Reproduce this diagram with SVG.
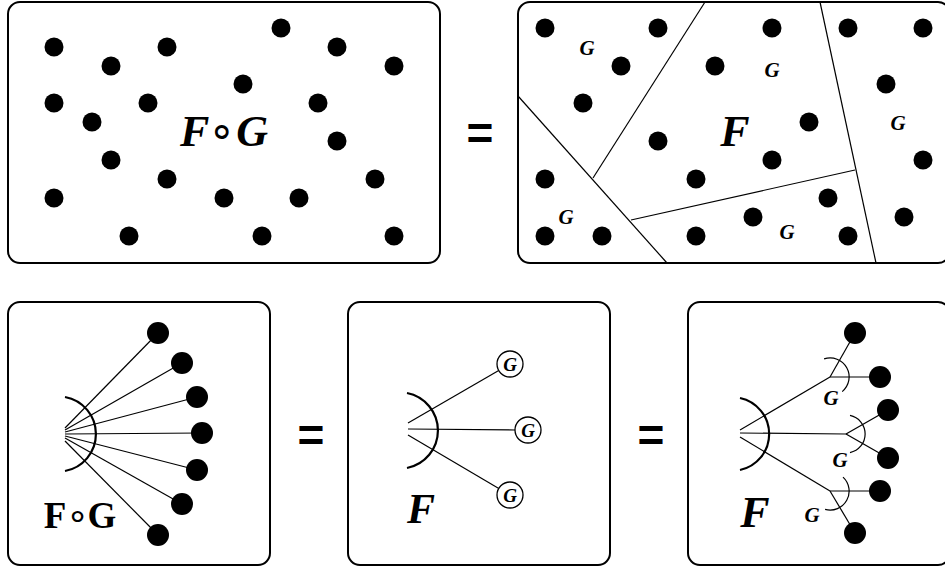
<svg xmlns="http://www.w3.org/2000/svg" width="945" height="572" viewBox="0 0 945 572">
<style>
.panel{fill:#fff;stroke:#000;stroke-width:2}
.d{fill:#000}
.ln{stroke:#000;stroke-width:1.2;fill:none}
.arc{stroke:#000;stroke-width:2.2;fill:none}
.sarc{stroke:#000;stroke-width:1.2;fill:none}
.bi{font-family:"Liberation Serif","Times New Roman",serif;font-weight:bold;font-style:italic;text-anchor:middle;fill:#000}
.bu{font-family:"Liberation Serif","Times New Roman",serif;font-weight:bold;text-anchor:middle;fill:#000}
.ring{font-weight:normal;font-style:normal}
.eq{font-family:"Liberation Sans",Arial,sans-serif;font-weight:bold;text-anchor:middle;font-size:46px;fill:#000}
.gc{fill:#fff;stroke:#000;stroke-width:1.3}
</style>
<rect width="945" height="572" fill="#fff"/>

<!-- Top-left panel -->
<g id="panel-top-left">
<rect class="panel" x="8" y="2" width="432" height="261" rx="12"/>
<g class="d">
<circle cx="54" cy="47" r="9.5"/><circle cx="167" cy="47" r="9.5"/><circle cx="281" cy="28" r="9.5"/>
<circle cx="337" cy="47" r="9.5"/><circle cx="394" cy="66" r="9.5"/><circle cx="111" cy="66" r="9.5"/>
<circle cx="243" cy="84" r="9.5"/><circle cx="54" cy="103" r="9.5"/><circle cx="148" cy="103" r="9.5"/>
<circle cx="318" cy="103" r="9.5"/><circle cx="92" cy="122" r="9.5"/><circle cx="337" cy="141" r="9.5"/>
<circle cx="111" cy="160" r="9.5"/><circle cx="167" cy="179" r="9.5"/><circle cx="375" cy="179" r="9.5"/>
<circle cx="54" cy="198" r="9.5"/><circle cx="224" cy="198" r="9.5"/><circle cx="299" cy="198" r="9.5"/>
<circle cx="129" cy="236" r="9.5"/><circle cx="262" cy="236" r="9.5"/><circle cx="394" cy="236" r="9.5"/>
</g>
<text class="bi" x="224" y="146" font-size="44">F<tspan class="ring" dx="-1">∘</tspan><tspan>G</tspan></text>
</g>

<text class="eq" x="480" y="149">=</text>

<!-- Top-right panel -->
<g id="panel-top-right">
<rect class="panel" x="518" y="2" width="432" height="261" rx="12"/>
<g class="ln">
<line x1="705" y1="2" x2="593" y2="178"/>
<line x1="518" y1="96" x2="667" y2="263"/>
<line x1="631" y1="220" x2="855" y2="170"/>
<line x1="820" y1="2" x2="876" y2="263"/>
</g>
<g class="d">
<circle cx="545" cy="28" r="9.5"/><circle cx="658" cy="28" r="9.5"/><circle cx="772" cy="28" r="9.5"/>
<circle cx="848" cy="28" r="9.5"/><circle cx="923" cy="28" r="9.5"/><circle cx="621" cy="66" r="9.5"/>
<circle cx="715" cy="66" r="9.5"/><circle cx="583" cy="103" r="9.5"/><circle cx="886" cy="84" r="9.5"/>
<circle cx="809" cy="122" r="9.5"/><circle cx="658" cy="141" r="9.5"/><circle cx="772" cy="160" r="9.5"/>
<circle cx="923" cy="160" r="9.5"/><circle cx="545" cy="179" r="9.5"/><circle cx="696" cy="179" r="9.5"/>
<circle cx="828" cy="198" r="9.5"/><circle cx="753" cy="217" r="9.5"/><circle cx="904" cy="217" r="9.5"/>
<circle cx="545" cy="236" r="9.5"/><circle cx="602" cy="236" r="9.5"/><circle cx="696" cy="236" r="9.5"/>
<circle cx="848" cy="236" r="9.5"/>
</g>
<text class="bi" x="587" y="55" font-size="21">G</text>
<text class="bi" x="772" y="77" font-size="21">G</text>
<text class="bi" x="898" y="130" font-size="21">G</text>
<text class="bi" x="566" y="224" font-size="21">G</text>
<text class="bi" x="787" y="239" font-size="21">G</text>
<text class="bi" x="735" y="146" font-size="44">F</text>
</g>

<!-- Bottom-left panel -->
<g id="panel-bottom-left">
<rect class="panel" x="8" y="302" width="262" height="263" rx="12"/>
<path class="arc" d="M65,397 A37.6,37.6 0 0 1 65,471"/>
<g class="d">
<circle cx="158" cy="333" r="11"/><circle cx="182" cy="363" r="11"/><circle cx="197" cy="397" r="11"/>
<circle cx="202" cy="433" r="11"/><circle cx="197" cy="470" r="11"/><circle cx="182" cy="504" r="11"/>
<circle cx="158" cy="535" r="11"/>
</g>
<text class="bu" x="80" y="528" font-size="37">F<tspan class="ring">∘</tspan><tspan dx="-2">G</tspan></text>
</g>

<text class="eq" x="311" y="451">=</text>

<!-- Bottom-middle panel -->
<g id="panel-bottom-middle">
<rect class="panel" x="348" y="302" width="262" height="263" rx="12"/>
<path class="arc" d="M407,393 A38.2,38.2 0 0 1 407,468"/>
<g id="g1"><circle class="gc" cx="510" cy="364" r="13"/><text class="bi" x="510" y="370.5" font-size="19">G</text></g>
<g id="g2"><circle class="gc" cx="528" cy="430" r="13"/><text class="bi" x="528" y="436.5" font-size="19">G</text></g>
<g id="g3"><circle class="gc" cx="510" cy="495" r="13"/><text class="bi" x="510" y="501.5" font-size="19">G</text></g>
<text class="bi" x="421" y="523" font-size="42">F</text>
</g>

<text class="eq" x="651" y="451">=</text>

<!-- Bottom-right panel -->
<g id="panel-bottom-right">
<rect class="panel" x="688" y="302" width="262" height="263" rx="12"/>
<path class="arc" d="M740,398 A36.8,36.8 0 0 1 740,470"/>
<path class="sarc" d="M824.1,358.9 A19,19 0 0 1 842.2,391.6"/>
<path class="sarc" d="M850,415.4 A19,19 0 0 1 850,452.6"/>
<path class="sarc" d="M843,477.1 A19,19 0 0 1 825.1,509.4"/>
<g class="d">
<circle cx="855" cy="333" r="11"/><circle cx="880" cy="377" r="11"/>
<circle cx="888" cy="410" r="11"/><circle cx="888" cy="458" r="11"/>
<circle cx="880" cy="491" r="11"/><circle cx="855" cy="533" r="11"/>
</g>
<text class="bi" x="831" y="405" font-size="21">G</text>
<text class="bi" x="840" y="467" font-size="21">G</text>
<text class="bi" x="812" y="522" font-size="21">G</text>
<text class="bi" x="755" y="527" font-size="44">F</text>
</g>

<!-- Connectors -->
<g id="connectors" class="ln">
<line x1="65" y1="428" x2="158" y2="333"/>
<line x1="65" y1="430" x2="182" y2="363"/>
<line x1="65" y1="432" x2="197" y2="397"/>
<line x1="65" y1="434" x2="202" y2="433"/>
<line x1="65" y1="436" x2="197" y2="470"/>
<line x1="65" y1="438" x2="182" y2="504"/>
<line x1="65" y1="441" x2="158" y2="535"/>
<line x1="408" y1="423" x2="498.7" y2="370.5"/>
<line x1="408" y1="429" x2="515" y2="430"/>
<line x1="408" y1="435" x2="498.8" y2="488.4"/>
<line x1="740" y1="430" x2="830" y2="377"/>
<line x1="740" y1="433" x2="846" y2="434"/>
<line x1="740" y1="437" x2="830" y2="491"/>
<line x1="830" y1="377" x2="855" y2="333"/>
<line x1="830" y1="377" x2="880" y2="377"/>
<line x1="846" y1="434" x2="888" y2="410"/>
<line x1="846" y1="434" x2="888" y2="458"/>
<line x1="830" y1="491" x2="880" y2="491"/>
<line x1="830" y1="491" x2="855" y2="533"/>
</g>
</svg>
